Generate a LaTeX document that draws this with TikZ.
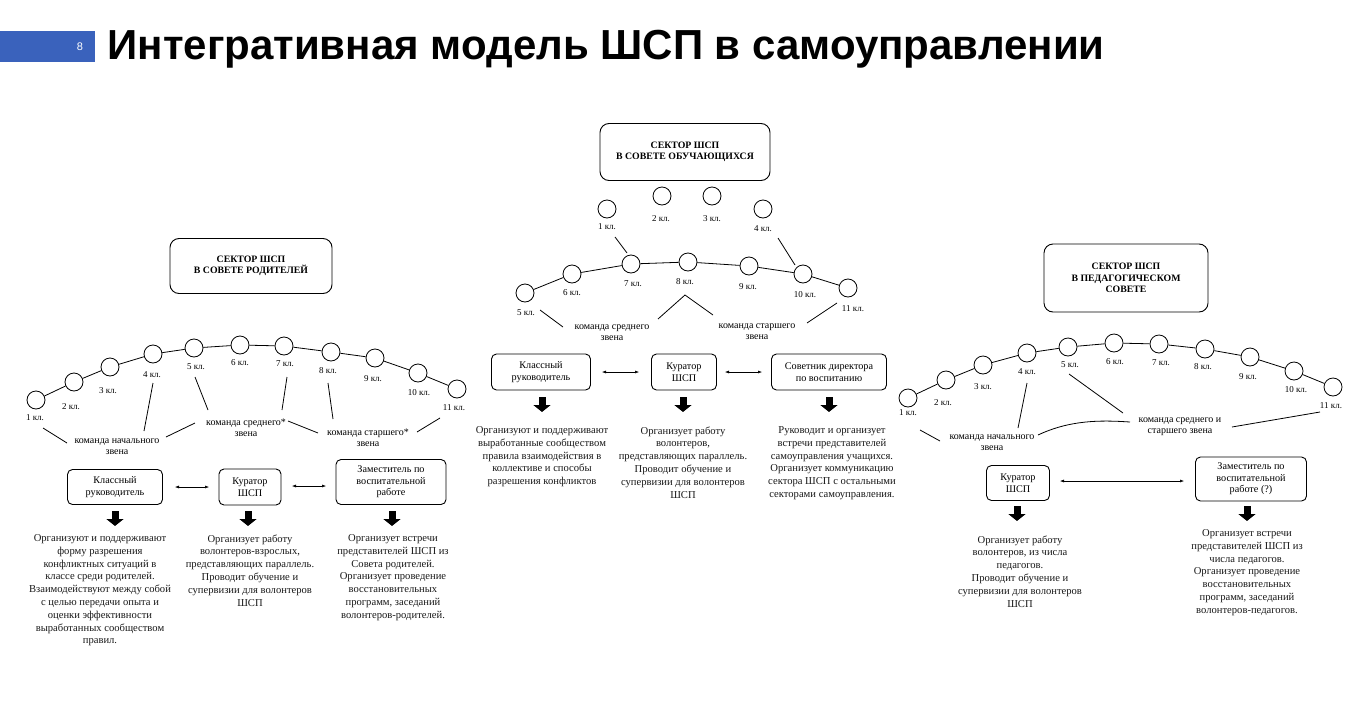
\documentclass[tikz,border=0pt]{standalone}
\usepackage{fontspec}
\setmainfont{Liberation Serif}
\newfontfamily\titlefont{Liberation Sans}
\usetikzlibrary{arrows.meta}
\definecolor{hdrblue}{RGB}{58,98,188}
\tikzset{
 cl/.style={circle,draw,line width=0.8pt,minimum size=18pt,inner sep=0pt},
 kl/.style={font=\fontsize{9}{10}\selectfont},
 team/.style={font=\fontsize{10}{11}\selectfont,align=center},
 rbox/.style={draw,line width=0.9pt,rounded corners=5pt,align=center,font=\fontsize{10.2}{11.5}\selectfont},
 sbox/.style={draw,line width=0.9pt,rounded corners=9pt,align=center,font=\bfseries\fontsize{9.8}{11.5}\selectfont},
 desc/.style={align=center,anchor=north,font=\fontsize{10.6}{12.8}\selectfont,text=black!90},
 ln/.style={line width=0.8pt},
 darr/.style={{Latex[length=4pt,width=3pt]}-{Latex[length=4pt,width=3pt]},line width=0.5pt},
 thick arrow/.style={line width=7pt,-{Triangle[width=17pt,length=7pt]}}
}
\begin{document}
\begin{tikzpicture}[x=1pt,y=-1pt]
\useasboundingbox (0,0) rectangle (1361,718);
\fill[white] (0,0) rectangle (1361,718);
% header
\fill[hdrblue] (0,31) rectangle (95,62);
\node[text=white,font=\titlefont\fontsize{11}{12}\selectfont] (pg) at (80,47) {8};
\node[anchor=west,font=\titlefont\bfseries\fontsize{42}{46}\selectfont] (title) at (104,49) {Интегративная модель ШСП в самоуправлении};

% ===== LEFT =====
\node[sbox,minimum width=162pt,minimum height=55pt] (Ls) at (251,266) {СЕКТОР ШСП\\В СОВЕТЕ РОДИТЕЛЕЙ};
\foreach \i/\x/\y/\lx/\ly in {1/36/400/35/418,2/74/382/71/407,3/110/367/108/391,4/153/354/152/375,5/194/348/196/367,6/240/345/240/363,7/284/346/285/364,8/331/352/328/371,9/375/358/373/379,10/418/373/419/393,11/457/389/454/408}{
 \node[cl] (L\i) at (\x,\y) {};
 \node[kl] (Ll\i) at (\lx,\ly) {\i\ кл.};
}
\draw[ln] (L1)--(L2)--(L3)--(L4)--(L5)--(L6)--(L7)--(L8)--(L9)--(L10)--(L11);
\node[team] (Lt1) at (117,447) {команда начального\\звена};
\node[team] (Lt2) at (246,428) {команда среднего*\\звена};
\node[team] (Lt3) at (368,438) {команда старшего*\\звена};
\draw[ln] (43,428)--(67,443);
\draw[ln] (153,383)--(144,431);
\draw[ln] (166,437)--(195,423);
\draw[ln] (195,377)--(208,410);
\draw[ln] (287,377)--(282,410);
\draw[ln] (288,421)--(318,433);
\draw[ln] (328,383)--(333,419);
\draw[ln] (417,432)--(440,418);
\node[rbox,minimum width=95pt,minimum height=35pt] (Lb1) at (115,487) {Классный\\руководитель};
\node[rbox,minimum width=62pt,minimum height=36pt] (Lb2) at (250,487) {Куратор\\ШСП};
\node[rbox,minimum width=110pt,minimum height=45pt] (Lb3) at (391,482) {Заместитель по\\воспитательной\\работе};
\draw[darr] (175,487)--(209,487);
\draw[darr] (292,486)--(326,486);
\foreach \n/\x in {1/115,2/248,3/392}{
 \coordinate (La\n s) at (\x,511); \coordinate (La\n e) at (\x,526);
 \draw[thick arrow] (La\n s)--(La\n e);}
\node[desc] (Ld1) at (100,531) {Организуют и поддерживают\\форму разрешения\\конфликтных ситуаций в\\классе среди родителей.\\Взаимодействуют между собой\\с целью передачи опыта и\\оценки эффективности\\выработанных сообществом\\правил.};
\node[desc] (Ld2) at (250,531) {Организует работу\\волонтеров-взрослых,\\представляющих параллель.\\Проводит обучение и\\супервизии для волонтеров\\ШСП};
\node[desc] (Ld3) at (393,531) {Организует встречи\\представителей ШСП из\\Совета родителей.\\Организует проведение\\восстановительных\\программ, заседаний\\волонтеров-родителей.};

% ===== MIDDLE =====
\node[sbox,minimum width=170pt,minimum height=57pt] (Ms) at (685,152) {СЕКТОР ШСП\\В СОВЕТЕ ОБУЧАЮЩИХСЯ};
\foreach \i/\x/\y/\lx/\ly in {1/607/209/607/227,2/662/196/661/219,3/712/196/712/219,4/763/209/763/229,5/525/293/526/313,6/572/274/572/293,7/631/264/633/284,8/688/262/685/282,9/749/266/748/287,10/803/274/805/295,11/848/288/853/309}{
 \node[cl] (M\i) at (\x,\y) {};
 \node[kl] (Ml\i) at (\lx,\ly) {\i\ кл.};
}
\draw[ln] (M5)--(M6)--(M7)--(M8)--(M9)--(M10)--(M11);
\draw[ln] (615,237)--(627,253);
\draw[ln] (778,238)--(795,265);
\node[team] (Mt1) at (612,333) {команда среднего\\звена};
\node[team] (Mt2) at (757,332) {команда старшего\\звена};
\draw[ln] (540,310)--(563,327);
\draw[ln] (658,319)--(685,295)--(713,315);
\draw[ln] (837,303)--(807,323);
\node[rbox,minimum width=99pt,minimum height=36pt] (Mb1) at (541,372) {Классный\\руководитель};
\node[rbox,minimum width=65pt,minimum height=36pt] (Mb2) at (684,372) {Куратор\\ШСП};
\node[rbox,minimum width=115pt,minimum height=36pt] (Mb3) at (829,372) {Советник директора\\по воспитанию};
\draw[darr] (602,372)--(639,372);
\draw[darr] (725,372)--(762,372);
\foreach \n/\x in {1/542,2/683,3/829}{
 \coordinate (Ma\n s) at (\x,397); \coordinate (Ma\n e) at (\x,412);
 \draw[thick arrow] (Ma\n s)--(Ma\n e);}
\node[desc] (Md1) at (542,423) {Организуют и поддерживают\\выработанные сообществом\\правила взаимодействия в\\коллективе и способы\\разрешения конфликтов};
\node[desc] (Md2) at (683,423) {Организует работу\\волонтеров,\\представляющих параллель.\\Проводит обучение и\\супервизии для волонтеров\\ШСП};
\node[desc] (Md3) at (832,423) {Руководит и организует\\встречи представителей\\самоуправления учащихся.\\Организует коммуникацию\\сектора ШСП с остальными\\секторами самоуправления.};

% ===== RIGHT =====
\node[sbox,minimum width=164pt,minimum height=68pt] (Rs) at (1126,278) {СЕКТОР ШСП\\В ПЕДАГОГИЧЕСКОМ\\СОВЕТЕ};
\foreach \i/\x/\y/\lx/\ly in {1/908/398/908/413,2/946/380/943/403,3/983/365/983/387,4/1027/353/1027/372,5/1068/347/1070/365,6/1114/343/1115/362,7/1159/344/1161/363,8/1205/349/1203/367,9/1250/357/1248/377,10/1294/371/1296/390,11/1333/387/1331/406}{
 \node[cl] (R\i) at (\x,\y) {};
 \node[kl] (Rl\i) at (\lx,\ly) {\i\ кл.};
}
\draw[ln] (R1)--(R2)--(R3)--(R4)--(R5)--(R6)--(R7)--(R8)--(R9)--(R10)--(R11);
\node[team] (Rt1) at (992,443) {команда начального\\звена};
\node[team] (Rt2) at (1180,427) {команда среднего и\\старшего звена};
\draw[ln] (920,430)--(940,441);
\draw[ln] (1027,383)--(1018,428);
\draw[ln] (1038,435) .. controls (1070,420) and (1100,420) .. (1130,422);
\draw[ln] (1069,374)--(1123,413);
\draw[ln] (1232,427)--(1320,412);
\node[rbox,minimum width=63pt,minimum height=35pt] (Rb1) at (1018,483) {Куратор\\ШСП};
\node[rbox,minimum width=111pt,minimum height=44pt] (Rb2) at (1251,479) {Заместитель по\\воспитательной\\работе (?)};
\draw[darr] (1060,481)--(1184,481);
\foreach \n/\x in {1/1017,2/1247}{
 \coordinate (Ra\n s) at (\x,506); \coordinate (Ra\n e) at (\x,521);
 \draw[thick arrow] (Ra\n s)--(Ra\n e);}
\node[desc] (Rd1) at (1020,532) {Организует работу\\волонтеров, из числа\\педагогов.\\Проводит обучение и\\супервизии для волонтеров\\ШСП};
\node[desc] (Rd2) at (1247,526) {Организует встречи\\представителей ШСП из\\числа педагогов.\\Организует проведение\\восстановительных\\программ, заседаний\\волонтеров-педагогов.};
\end{tikzpicture}
\end{document}
